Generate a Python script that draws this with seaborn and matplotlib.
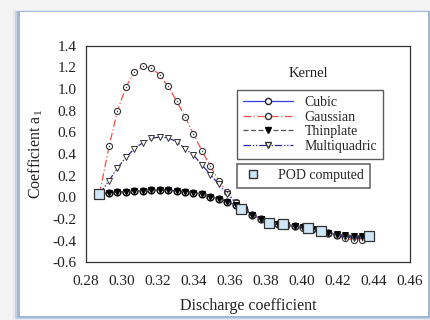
import matplotlib
matplotlib.use("Agg")
import matplotlib.pyplot as plt
from matplotlib.lines import Line2D
from matplotlib.patches import Rectangle
import seaborn as sns
import pandas as pd

# Discharge coefficient grid shared by all kernels
discharge = [0.2875, 0.2928, 0.2975, 0.3022, 0.3069, 0.3116, 0.3163, 0.3209,
             0.3256, 0.3303, 0.3350, 0.3397, 0.3444, 0.3491, 0.3538, 0.3585,
             0.3632, 0.3679, 0.3725, 0.3772, 0.3819, 0.3866, 0.3913, 0.3960,
             0.4007, 0.4054, 0.4101, 0.4147, 0.4194, 0.4241, 0.4288, 0.4335,
             0.4375]

cubic = [0.03, 0.043, 0.046, 0.052, 0.058, 0.062, 0.065, 0.066, 0.065, 0.058,
         0.052, 0.043, 0.031, 0.006, -0.015, -0.040, -0.074, -0.115, -0.160,
         -0.200, -0.232, -0.248, -0.255, -0.263, -0.278, -0.293, -0.310,
         -0.328, -0.345, -0.355, -0.362, -0.365, -0.36]

gaussian = [0.03, 0.47, 0.80, 1.02, 1.155, 1.21, 1.195, 1.13, 1.025, 0.89,
            0.745, 0.585, 0.43, 0.285, 0.155, 0.045, -0.045, -0.110, -0.160,
            -0.200, -0.235, -0.250, -0.255, -0.265, -0.280, -0.295, -0.310,
            -0.330, -0.350, -0.380, -0.395, -0.390, -0.36]

thinplate = [0.03, 0.043, 0.046, 0.052, 0.058, 0.062, 0.065, 0.066, 0.065,
             0.058, 0.052, 0.043, 0.031, 0.006, -0.015, -0.040, -0.074, -0.118,
             -0.162, -0.200, -0.233, -0.248, -0.255, -0.263, -0.278, -0.293,
             -0.310, -0.328, -0.343, -0.348, -0.354, -0.354, -0.36]

multiquadric = [0.03, 0.155, 0.27, 0.37, 0.45, 0.505, 0.545, 0.557, 0.548,
                0.515, 0.45, 0.39, 0.30, 0.21, 0.12, 0.03, -0.05, -0.110,
                -0.160, -0.200, -0.235, -0.250, -0.255, -0.265, -0.280, -0.295,
                -0.310, -0.330, -0.350, -0.365, -0.375, -0.370, -0.36]

# POD reference solutions
pod_x = [0.2870, 0.3659, 0.3817, 0.3896, 0.4035, 0.4103, 0.4374]
pod_y = [0.031, -0.111, -0.234, -0.249, -0.286, -0.311, -0.360]

x_ticks = [0.28, 0.30, 0.32, 0.34, 0.36, 0.38, 0.40, 0.42, 0.44, 0.46]
y_ticks = [-0.6, -0.4, -0.2, 0.0, 0.2, 0.4, 0.6, 0.8, 1.0, 1.2, 1.4]

sns.set_theme(style="white")
plt.rcParams["font.family"] = ["Liberation Serif", "DejaVu Serif"]
plt.rcParams["mathtext.fontset"] = "custom"
plt.rcParams["mathtext.rm"] = "Liberation Serif"
plt.rcParams["mathtext.it"] = "Liberation Serif"

df = pd.DataFrame({"x": discharge, "Cubic": cubic, "Gaussian": gaussian,
                   "Thinplate": thinplate, "Multiquadric": multiquadric})
pod = pd.DataFrame({"x": pod_x, "y": pod_y})

fig = plt.figure(figsize=(4.31, 3.20), dpi=100, facecolor="#f3f3f3")

# soft blue frame around the white panel
for pad, alpha in [(7, 0.15), (5, 0.3), (3, 0.6)]:
    fig.patches.append(Rectangle(((20 - pad) / 431, (4 - pad / 2) / 320),
                                 (408 + pad + 2) / 431, (304 + pad * 0.8) / 320,
                                 transform=fig.transFigure, facecolor="#88a4d2",
                                 edgecolor="none", alpha=alpha, zorder=-3))
fig.patches.append(Rectangle((20 / 431, 4 / 320), 408 / 431, 304 / 320,
                             transform=fig.transFigure, facecolor="white",
                             edgecolor="none", zorder=-2))

ax = fig.add_axes([86 / 431, 1 - 262.3 / 320, 324 / 431, 216.6 / 320])
ax.set_facecolor("none")

ms = 4.4
sns.lineplot(data=df, x="x", y="Cubic", ax=ax, color="#3a3ae0", lw=0.9,
             marker="o", markersize=ms + 0.4, markerfacecolor="white",
             markeredgecolor="#111111", markeredgewidth=1.1, zorder=3)
sns.lineplot(data=df, x="x", y="Gaussian", ax=ax, color="#ff4a4a", lw=0.9,
             linestyle=(0, (6, 2, 1, 2)), marker="o", markersize=ms,
             markerfacecolor="white", markeredgecolor="#333333",
             markeredgewidth=0.8, zorder=3)
sns.scatterplot(data=df, x="x", y="Gaussian", ax=ax, marker=".", s=4,
                color="#333333", linewidth=0, zorder=4)
sns.lineplot(data=df, x="x", y="Thinplate", ax=ax, color="#555555", lw=0.9,
             linestyle=(0, (4, 2)), marker="v", markersize=ms + 0.6,
             markerfacecolor="black", markeredgecolor="black",
             markeredgewidth=0.6, zorder=4)
sns.lineplot(data=df, x="x", y="Multiquadric", ax=ax, color="#2a2a9a", lw=0.9,
             linestyle=(0, (6, 1.5, 1, 1.5, 1, 1.5)), marker="v",
             markersize=ms + 0.3, markerfacecolor="white",
             markeredgecolor="#333333", markeredgewidth=0.7, zorder=3)
sns.scatterplot(data=pod, x="x", y="y", ax=ax, marker="s", s=46,
                color="#cfe6f7", edgecolor="#333333", linewidth=0.9, zorder=5)

ax.set_xlim(0.28, 0.46)
ax.set_ylim(-0.6, 1.4)
ax.set_xticks(x_ticks)
ax.set_xticklabels([f"{t:.2f}" for t in x_ticks])
ax.set_yticks(y_ticks)
ax.set_yticklabels([f"{t:.1f}" for t in y_ticks])
ax.tick_params(axis="both", direction="out", length=4, width=0.8,
               labelsize=11, colors="#222222")
ax.tick_params(axis="x", pad=5)
ax.tick_params(axis="y", pad=3)
for s in ax.spines.values():
    s.set_color("#333333")
    s.set_linewidth(0.9)
ax.set_xlabel("Discharge coefficient", fontsize=11.5, color="#222222",
              labelpad=7)
ax.set_ylabel("Coefficient a$_1$", fontsize=11.5, color="#222222", labelpad=5)

# kernel legend
kernel_handles = [
    Line2D([], [], color="#3a3ae0", lw=0.9, marker="o", markersize=ms,
           markerfacecolor="white", markeredgecolor="#222222"),
    Line2D([], [], color="#ff4a4a", lw=0.9, linestyle=(0, (6, 2, 1, 2)),
           marker="o", markersize=ms, markerfacecolor="white",
           markeredgecolor="#333333"),
    Line2D([], [], color="#555555", lw=0.9, linestyle=(0, (4, 2)), marker="v",
           markersize=ms + 0.3, markerfacecolor="black",
           markeredgecolor="black"),
    Line2D([], [], color="#2a2a9a", lw=0.9,
           linestyle=(0, (6, 1.5, 1, 1.5, 1, 1.5)), marker="v",
           markersize=ms + 0.3, markerfacecolor="white",
           markeredgecolor="#333333"),
]
leg1 = ax.legend(kernel_handles, ["Cubic", "Gaussian", "Thinplate",
                                   "Multiquadric"],
                 loc="upper left", bbox_to_anchor=(0.466, 0.795),
                 fontsize=10, handlelength=3.6, handletextpad=0.85,
                 labelspacing=0.12, borderpad=0.42, fancybox=False,
                 frameon=True, edgecolor="#333333", borderaxespad=0)
leg1.get_frame().set_linewidth(1.0)
ax.add_artist(leg1)
ax.text(0.685, 0.87, "Kernel", transform=ax.transAxes, fontsize=10.5,
        ha="center", va="center", color="#222222")

pod_handle = Line2D([], [], linestyle="none", marker="s", markersize=6,
                    markerfacecolor="#cfe6f7", markeredgecolor="#333333")
leg2 = ax.legend([pod_handle], ["POD computed"], loc="upper left",
                 bbox_to_anchor=(0.466, 0.454), fontsize=10,
                 handlelength=1.6, handletextpad=1.0, borderpad=0.38,
                 fancybox=False, frameon=True, edgecolor="#444444",
                 borderaxespad=0)
leg2.get_frame().set_linewidth(1.2)

fig.savefig("out.png", dpi=100, facecolor=fig.get_facecolor())
